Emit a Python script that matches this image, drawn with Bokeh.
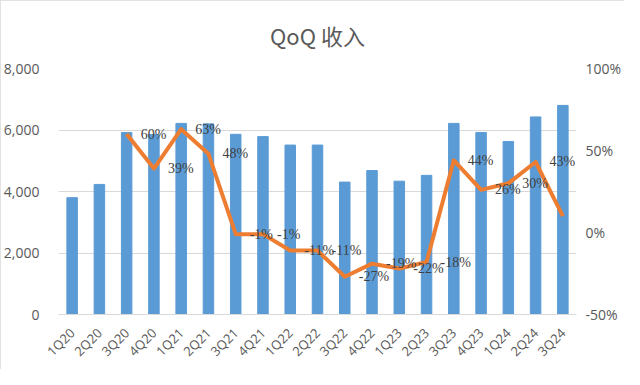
import math
from bokeh.plotting import figure
from bokeh.models import (ColumnDataSource, FactorRange, Range1d, LinearAxis,
                          FixedTicker, NumeralTickFormatter, LabelSet)
from bokeh.embed import file_html
from bokeh.resources import INLINE

quarters = ["1Q20", "2Q20", "3Q20", "4Q20", "1Q21", "2Q21", "3Q21", "4Q21",
            "1Q22", "2Q22", "3Q22", "4Q22", "1Q23", "2Q23", "3Q23", "4Q23",
            "1Q24", "2Q24", "3Q24"]
revenue = [3800, 4230, 5920, 5850, 6215, 6200, 5860, 5785,
           5510, 5510, 4305, 4680, 4335, 4525, 6215, 5920,
           5625, 6425, 6800]
growth_quarters = quarters[2:]
growth_pct = [60, 39, 63, 48, -1, -1, -11, -11, -27, -19, -22, -18,
              44, 26, 30, 43, 10]
left_ticks = [0, 2000, 4000, 6000, 8000]
right_ticks = [-0.5, 0.0, 0.5, 1.0]
title_text = "QoQ 收入"

TXT = "#595959"
GRID = "#d9d9d9"
FONT = "Open Sans"

bar_src = ColumnDataSource(dict(q=quarters, v=revenue))
line_src = ColumnDataSource(dict(
    q=growth_quarters,
    g=[x / 100 for x in growth_pct],
    lab=[f"{x}%" for x in growth_pct],
))

p = figure(x_range=FactorRange(*quarters, range_padding=0),
           y_range=Range1d(left_ticks[0], left_ticks[-1]),
           width=624, height=369, output_backend="svg", toolbar_location=None,
           min_border_left=58, min_border_right=46, min_border_top=64,
           min_border_bottom=55, title=title_text)
p.styles = {"outline": f"1px solid {GRID}", "outline-offset": "-1px"}
p.outline_line_color = None
p.background_fill_color = "white"
p.border_fill_color = "white"

p.title.align = "center"
p.title.vertical_align = "middle"
p.title.standoff = 34
p.title.text_font = "Noto Sans CJK SC"
p.title.text_font_size = "22px"
p.title.text_font_style = "normal"
p.title.text_color = TXT

p.extra_y_ranges = {"pct": Range1d(right_ticks[0], right_ticks[-1])}

p.vbar(x="q", top="v", width=0.385, source=bar_src, color="#5b9bd5")
p.line(x="q", y="g", source=line_src, y_range_name="pct",
       line_color="#ed7d31", line_width=4, line_join="round")
labels = LabelSet(x="q", y="g", text="lab", source=line_src, y_range_name="pct",
                  x_offset=14, y_offset=0, text_align="left",
                  text_baseline="middle", text_font_size="14px",
                  text_color="#404040", text_font=FONT)
p.add_layout(labels)

# left axis
ly = p.yaxis[0]
ly.ticker = FixedTicker(ticks=left_ticks)
ly.formatter = NumeralTickFormatter(format="0,0")
ly.axis_line_color = None
ly.major_tick_line_color = None
ly.major_tick_out = 0
ly.major_tick_in = 0
ly.minor_tick_line_color = None
ly.major_label_text_font = FONT
ly.major_label_text_font_size = "14px"
ly.major_label_text_color = TXT
ly.major_label_standoff = 19

ry = LinearAxis(y_range_name="pct", ticker=FixedTicker(ticks=right_ticks),
                formatter=NumeralTickFormatter(format="0%"))
ry.axis_line_color = None
ry.major_tick_line_color = None
ry.major_tick_out = 0
ry.major_tick_in = 0
ry.minor_tick_line_color = None
ry.major_label_text_font = FONT
ry.major_label_text_font_size = "14px"
ry.major_label_text_color = TXT
ry.major_label_standoff = 9
p.add_layout(ry, "right")

xa = p.xaxis[0]
xa.axis_line_color = GRID
xa.major_tick_line_color = None
xa.major_tick_out = 0
xa.major_tick_in = 0
xa.minor_tick_line_color = None
xa.major_label_orientation = math.pi / 4
xa.major_label_text_font = FONT
xa.major_label_text_font_size = "13px"
xa.major_label_text_color = TXT
xa.major_label_standoff = 16

p.xgrid.grid_line_color = None
p.ygrid.grid_line_color = GRID
p.ygrid.ticker = FixedTicker(ticks=left_ticks)

open("out.html", "w").write(file_html(p, INLINE))
